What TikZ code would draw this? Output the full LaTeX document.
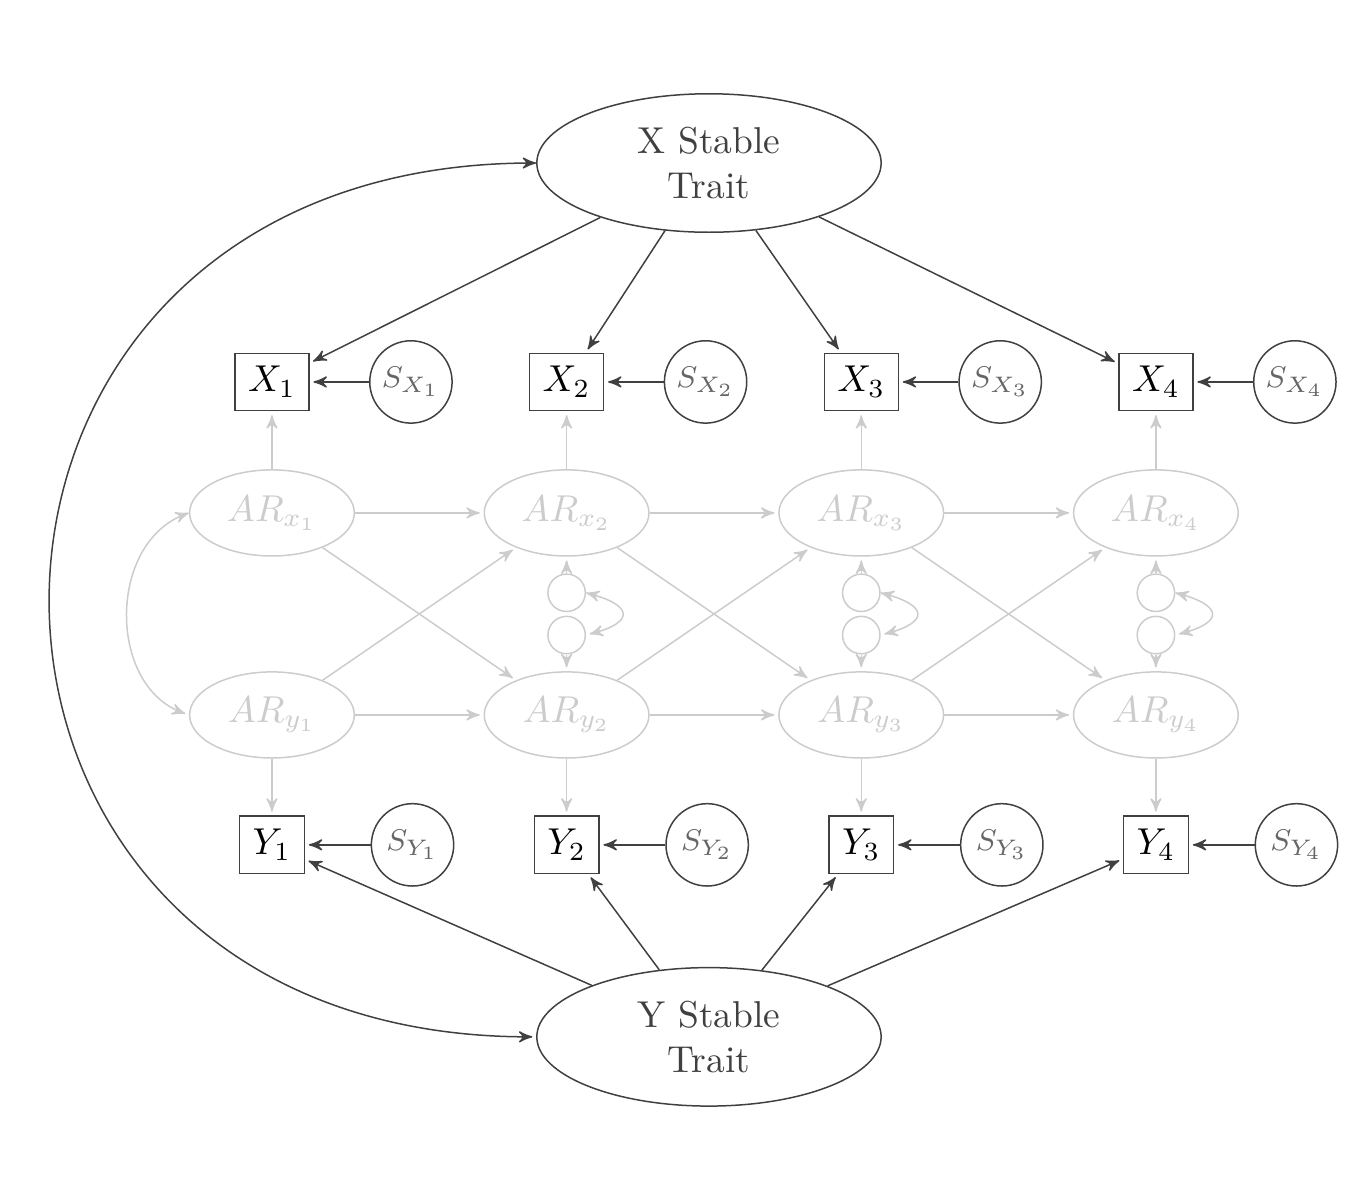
\documentclass[tikz,border=0pt]{standalone}
\usepackage{amsmath}
\usepackage{amssymb}
\usepackage{tikz}
\usetikzlibrary{arrows,positioning,shapes.geometric}

\begin{document}
\begin{tikzpicture}[->,>=stealth',shorten >=1pt,auto,node distance=2.767cm,on grid,
                        color=black!75,
                        trait/.style={ellipse,draw,align=center,minimum width=92pt,minimum height=37pt,inner sep=0pt},
                        obs/.style={rectangle,draw,text=black,inner sep=3.5pt},
                        res/.style={circle,draw,text=black!60,minimum size=22pt,inner sep=0pt,font=\footnotesize},
                        faded/.style={black!20},
                        ar/.style={ellipse,draw,faded,minimum width=44pt,minimum height=23pt,inner sep=0pt},
                        dist/.style={circle,draw,faded,minimum size=10pt,inner sep=0pt}]

        \useasboundingbox (0,0) rectangle (12.80,-11.27);

        % observed variables, X row
        \node[obs] (x1) at (2.554,-3.587) {$X_1$};
        \node[obs] (x2) [right=of x1] {$X_2$};
        \node[obs] (x3) [right=of x2] {$X_3$};
        \node[obs] (x4) [right=of x3] {$X_4$};
        \node[res] (sx1) [right=1.305cm of x1] {$S_{X_1}$};
        \node[res] (sx2) [right=1.305cm of x2] {$S_{X_2}$};
        \node[res] (sx3) [right=1.305cm of x3] {$S_{X_3}$};
        \node[res] (sx4) [right=1.305cm of x4] {$S_{X_4}$};

        % autoregressive parts
        \node[ar] (arx1) [below=1.23cm of x1] {$AR_{x_1}$};
        \node[ar] (arx2) [below=1.23cm of x2] {$AR_{x_2}$};
        \node[ar] (arx3) [below=1.23cm of x3] {$AR_{x_3}$};
        \node[ar] (arx4) [below=1.23cm of x4] {$AR_{x_4}$};
        \node[ar] (ary1) [below=1.897cm of arx1] {$AR_{y_1}$};
        \node[ar] (ary2) [below=1.897cm of arx2] {$AR_{y_2}$};
        \node[ar] (ary3) [below=1.897cm of arx3] {$AR_{y_3}$};
        \node[ar] (ary4) [below=1.897cm of arx4] {$AR_{y_4}$};
        \node[dist] (ux2) [below=0.75cm of arx2] {};
        \node[dist] (ux3) [below=0.75cm of arx3] {};
        \node[dist] (ux4) [below=0.75cm of arx4] {};
        \node[dist] (uy2) [above=0.75cm of ary2] {};
        \node[dist] (uy3) [above=0.75cm of ary3] {};
        \node[dist] (uy4) [above=0.75cm of ary4] {};

        % observed variables, Y row
        \node[obs] (y1) [below=1.22cm of ary1] {$Y_1$};
        \node[obs] (y2) [below=1.22cm of ary2] {$Y_2$};
        \node[obs] (y3) [below=1.22cm of ary3] {$Y_3$};
        \node[obs] (y4) [below=1.22cm of ary4] {$Y_4$};
        \node[res] (sy1) [right=1.32cm of y1] {$S_{Y_1}$};
        \node[res] (sy2) [right=1.32cm of y2] {$S_{Y_2}$};
        \node[res] (sy3) [right=1.32cm of y3] {$S_{Y_3}$};
        \node[res] (sy4) [right=1.32cm of y4] {$S_{Y_4}$};

        % stable traits
        \node[trait] (xt) at (6.658,-1.531) {X Stable\\Trait};
        \node[trait] (yt) at (6.658,-9.737) {Y Stable\\Trait};

        \path (xt) edge (x1) edge (x2) edge (x3) edge (x4)
              (yt) edge (y1) edge (y2) edge (y3) edge (y4)
              (sx1) edge (x1)
              (sx2) edge (x2)
              (sx3) edge (x3)
              (sx4) edge (x4)
              (sy1) edge (y1)
              (sy2) edge (y2)
              (sy3) edge (y3)
              (sy4) edge (y4)
              (xt.west) edge[<->,out=180,in=180,looseness=1.9] (yt.west);

        \path[faded] (arx1) edge (x1) edge (arx2) edge (ary2)
                (arx2) edge (x2) edge (arx3) edge (ary3)
                (arx3) edge (x3) edge (arx4) edge (ary4)
                (arx4) edge (x4)
                (ary1) edge (y1) edge (ary2) edge (arx2)
                (ary2) edge (y2) edge (ary3) edge (arx3)
                (ary3) edge (y3) edge (ary4) edge (arx4)
                (ary4) edge (y4)
                (ux2) edge (arx2)
                (ux3) edge (arx3)
                (ux4) edge (arx4)
                (uy2) edge (ary2)
                (uy3) edge (ary3)
                (uy4) edge (ary4)
                (arx1.west) edge[<->,out=200,in=160,looseness=1.1] (ary1.west)
                (ux2.east) edge[<->,out=-15,in=15,looseness=3] (uy2.east)
                (ux3.east) edge[<->,out=-15,in=15,looseness=3] (uy3.east)
                (ux4.east) edge[<->,out=-15,in=15,looseness=3] (uy4.east);
    \end{tikzpicture}
\end{document}
